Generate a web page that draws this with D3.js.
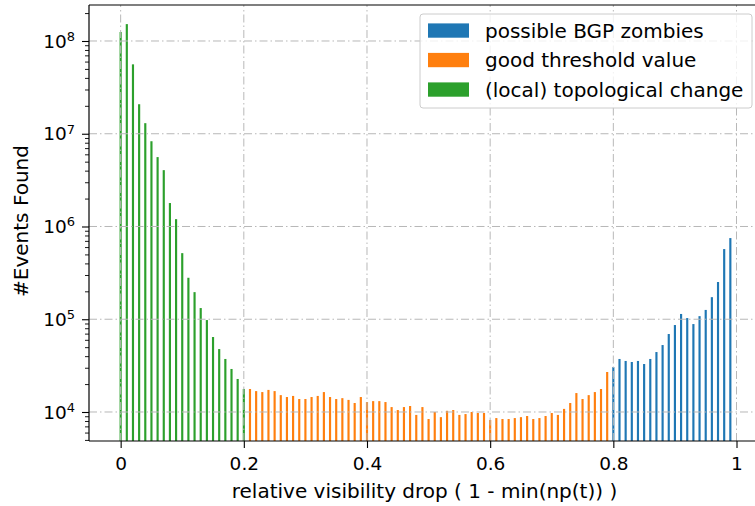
<!DOCTYPE html>
<html>
<head>
<meta charset="utf-8">
<script src="https://cdn.jsdelivr.net/npm/d3@7"></script>
<style>
  html, body { margin: 0; padding: 0; background: #fff; }
  svg { display: block; font-family: "DejaVu Sans", sans-serif; }
</style>
</head>
<body>
<div id="chart"></div>
<script>
// ---- data ----
const greenX = [0.00,0.01,0.02,0.03,0.04,0.05,0.06,0.07,0.08,0.09,0.10,0.11,0.12,0.13,0.14,0.15,0.16,0.17,0.18,0.19,0.20];
const greenY = [1.25e8,1.52e8,5.6e7,2.08e7,1.30e7,8.3e6,5.6e6,4.05e6,1.79e6,1.20e6,5.16e5,2.80e5,1.96e5,1.32e5,9.8e4,6.43e4,4.77e4,3.73e4,2.91e4,2.27e4,1.77e4];

const orangeX = [0.21,0.22,0.23,0.24,0.25,0.26,0.27,0.28,0.29,0.30,0.31,0.32,0.33,0.34,0.35,0.36,0.37,0.38,0.39,0.40,
                 0.41,0.42,0.43,0.44,0.45,0.46,0.47,0.48,0.49,0.50,0.51,0.52,0.53,0.54,0.55,0.56,0.57,0.58,0.59,0.60,
                 0.61,0.62,0.63,0.64,0.65,0.66,0.67,0.68,0.69,0.70,0.71,0.72,0.73,0.74,0.75,0.76,0.77,0.78,0.79];
const orangeY = [1.77e4,1.68e4,1.64e4,1.73e4,1.68e4,1.52e4,1.45e4,1.49e4,1.38e4,1.38e4,1.45e4,1.49e4,1.64e4,1.45e4,1.38e4,1.41e4,1.35e4,1.25e4,1.45e4,1.28e4,
                 1.31e4,1.31e4,1.28e4,1.13e4,1.05e4,1.13e4,1.16e4,9.3e3,1.13e4,8.4e3,1.0e4,8.8e3,1.03e4,1.05e4,9.3e3,9.5e3,1.0e4,9.75e3,9.75e3,8.2e3,
                 8.6e3,8.4e3,8.4e3,8.6e3,8.8e3,9.05e3,8.4e3,8.6e3,9.05e3,9.75e3,9.3e3,1.08e4,1.25e4,1.6e4,1.38e4,1.52e4,1.64e4,1.77e4,2.7e4];

const blueX = [0.80,0.81,0.82,0.83,0.84,0.85,0.86,0.87,0.88,0.89,0.90,0.91,0.92,0.93,0.94,0.95,0.96,0.97,0.98,0.99];
const blueY = [3.05e4,3.73e4,3.55e4,3.46e4,3.55e4,3.29e4,3.73e4,4.43e4,5.27e4,6.93e4,8.66e4,1.14e5,1.03e5,8.87e4,1.08e5,1.26e5,1.73e5,2.52e5,5.71e5,7.50e5];

const seriesNames = ["possible BGP zombies", "good threshold value", "(local) topological change"];
const seriesColors = ["#1f77b4", "#ff7f0e", "#2ca02c"];

const xTicks = [0, 0.2, 0.4, 0.6, 0.8, 1];
const xTickLabels = ["0", "0.2", "0.4", "0.6", "0.8", "1"];
const yTicks = [1e4, 1e5, 1e6, 1e7, 1e8];
const yTickExp = ["4", "5", "6", "7", "8"];

const xLabel = "relative visibility drop ( 1 - min(np(t)) )";
const yLabel = "#Events Found";

// ---- layout ----
const W = 755, H = 506;
const L = 89, T = 5, B = 441, R = 762;
const barW = 0.0035;

const svg = d3.select("#chart").append("svg").attr("width", W).attr("height", H);

const x = d3.scaleLinear().domain([-0.0514, 1.0414]).range([L, R]);
const y = d3.scaleLog().domain([Math.pow(10, 3.6873), Math.pow(10, 8.388)]).range([B, T]);

svg.append("defs").append("clipPath").attr("id", "clip")
  .append("rect").attr("x", L).attr("y", T).attr("width", R - L).attr("height", B - T);

const plot = svg.append("g").attr("clip-path", "url(#clip)");

// bars
const series = [
  { xs: blueX, ys: blueY, color: seriesColors[0] },
  { xs: orangeX, ys: orangeY, color: seriesColors[1] },
  { xs: greenX, ys: greenY, color: seriesColors[2] }
];
series.forEach(s => {
  const data = s.xs.map((v, i) => ({ x: v, y: s.ys[i] }));
  plot.append("g").selectAll("rect").data(data).join("rect")
    .attr("x", d => x(d.x - barW / 2))
    .attr("width", x(barW) - x(0))
    .attr("y", d => y(d.y))
    .attr("height", d => B + 5 - y(d.y))
    .attr("fill", s.color);
});

// grid (drawn above bars, as matplotlib's default)
const grid = plot.append("g").attr("stroke", "#b8b8b8").attr("stroke-width", 1)
  .attr("stroke-dasharray", "8,3,1.5,3");
grid.selectAll("line.gx").data(xTicks).join("line").attr("class", "gx")
  .attr("x1", d => x(d)).attr("x2", d => x(d)).attr("y1", B).attr("y2", T);
grid.selectAll("line.gy").data(yTicks).join("line").attr("class", "gy")
  .attr("x1", L).attr("x2", R).attr("y1", d => y(d)).attr("y2", d => y(d));

// x axis
const xAxis = d3.axisBottom(x).tickValues(xTicks).tickSize(7).tickPadding(5)
  .tickFormat((d, i) => xTickLabels[i]);
const gx = svg.append("g").attr("transform", `translate(0,${B})`).call(xAxis);
gx.select(".domain").remove();
gx.selectAll(".tick line").attr("stroke", "#000").attr("stroke-width", 1.1);
gx.selectAll(".tick text").attr("font-size", 18.5).attr("fill", "#000")
  .attr("font-family", "DejaVu Sans").attr("dy", null).attr("y", 29);

// y axis (log) with minor ticks
const yAxis = d3.axisLeft(y).tickValues(yTicks).tickSize(7).tickFormat("");
const gy = svg.append("g").attr("transform", `translate(${L},0)`).call(yAxis);
gy.select(".domain").remove();
gy.selectAll(".tick line").attr("stroke", "#000").attr("stroke-width", 1.1);

const [d0, d1] = y.domain();
const minor = [];
for (let e = 3; e <= 8; e++) {
  for (let m = 2; m <= 9; m++) {
    const v = m * Math.pow(10, e);
    if (v >= d0 && v <= d1) minor.push(v);
  }
}
const yMinor = d3.axisLeft(y).tickValues(minor).tickSize(4).tickFormat("");
const gym = svg.append("g").attr("transform", `translate(${L},0)`).call(yMinor);
gym.select(".domain").remove();
gym.selectAll(".tick line").attr("stroke", "#000").attr("stroke-width", 0.9);

// y tick labels 10^n
yTicks.forEach((v, i) => {
  const t = svg.append("text")
    .attr("x", 75).attr("y", y(v) + 6.6)
    .attr("text-anchor", "end").attr("fill", "#000");
  t.append("tspan").attr("font-size", 18.5).text("10");
  t.append("tspan").attr("font-size", 13).attr("dy", -6.8).text(yTickExp[i]);
});

// spines
svg.append("g").attr("stroke", "#000").attr("stroke-width", 1.2).attr("fill", "none")
  .call(g => {
    g.append("line").attr("x1", L).attr("x2", L).attr("y1", T).attr("y2", B);
    g.append("line").attr("x1", L).attr("x2", R).attr("y1", B).attr("y2", B);
    g.append("line").attr("x1", L).attr("x2", R).attr("y1", T).attr("y2", T);
    g.append("line").attr("x1", R).attr("x2", R).attr("y1", T).attr("y2", B);
  });

// axis labels
svg.append("text").attr("x", 424.5).attr("y", 498).attr("text-anchor", "middle")
  .attr("font-size", 20).attr("fill", "#000").text(xLabel);
svg.append("text").attr("transform", "translate(28,221) rotate(-90)")
  .attr("text-anchor", "middle").attr("font-size", 20).attr("fill", "#000").text(yLabel);

// legend
const lg = svg.append("g");
lg.append("rect").attr("x", 420).attr("y", 14).attr("width", 332).attr("height", 94)
  .attr("rx", 3).attr("fill", "#fff").attr("fill-opacity", 0.8)
  .attr("stroke", "#cccccc").attr("stroke-width", 1);
const rowBottoms = [37.7, 67.2, 96.7];
seriesNames.forEach((n, i) => {
  lg.append("rect").attr("x", 428).attr("y", rowBottoms[i] - 14.3)
    .attr("width", 41).attr("height", 14.3).attr("fill", seriesColors[i]);
  lg.append("text").attr("x", 485).attr("y", rowBottoms[i])
    .attr("font-size", 20).attr("fill", "#000").text(n);
});
</script>
</body>
</html>
